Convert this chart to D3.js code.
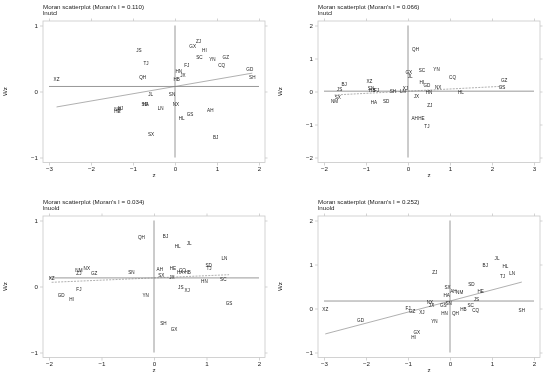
<!DOCTYPE html>
<html>
<head>
<meta charset="utf-8">
<script src="https://cdnjs.cloudflare.com/ajax/libs/d3/7.8.5/d3.min.js"></script>
<style>
  body { margin: 0; background: #fff; }
  svg { will-change: transform; }
  text { font-family: 'Liberation Sans', Arial, sans-serif; fill: #222; }
</style>
</head>
<body>
<div id="chart"></div>
<script>
// Panel titles / variables
var titles = ["Moran scatterplot (Moran's I = 0.110)", "Moran scatterplot (Moran's I = 0.066)",
              "Moran scatterplot (Moran's I = 0.034)", "Moran scatterplot (Moran's I = 0.252)"];
var subtitles = ['lnutcl', 'lnutcl', 'lnuold', 'lnuold'];
var moranI = [0.110, 0.066, 0.034, 0.252];
var meanWz = [0.076, 0.01, 0.13, 0.17];

// Tick values
var xTicks = [[-3, -2, -1, 0, 1, 2], [-2, -1, 0, 1, 2, 3], [-2, -1, 0, 1, 2], [-3, -2, -1, 0, 1, 2]];
var yTicks = [[-1, 0, 1], [-2, -1, 0, 1, 2], [-1, 0, 1], [-1, 0, 1, 2]];

// Panel 1: lnutcl, I = 0.110
var p1Names = ['ZJ', 'GX', 'HI', 'JS', 'SC', 'YN', 'GZ', 'TJ', 'FJ', 'CQ', 'GD', 'HN', 'JX', 'XZ', 'QH', 'HB',
               'SH', 'JL', 'SN', 'SD', 'HA', 'LN', 'NX', 'NM', 'XJ', 'HE', 'AH', 'HL', 'GS', 'SX', 'BJ'];
var p1Z = [0.56, 0.42, 0.70, -0.86, 0.58, 0.89, 1.21, -0.69, 0.28, 1.11, 1.78, 0.09, 0.19, -2.82, -0.77, 0.04,
           1.84, -0.58, -0.07, -0.72, -0.70, -0.34, 0.02, -1.36, -1.30, -1.37, 0.84, 0.16, 0.36, -0.57, 0.97];
var p1Wz = [0.76, 0.68, 0.62, 0.62, 0.51, 0.48, 0.51, 0.42, 0.39, 0.39, 0.34, 0.30, 0.25, 0.19, 0.22, 0.18,
            0.21, -0.05, -0.04, -0.19, -0.20, -0.26, -0.19, -0.27, -0.26, -0.30, -0.28, -0.40, -0.35, -0.65, -0.69];

// Panel 2: lnutcl, I = 0.066
var p2Names = ['QH', 'SC', 'YN', 'GX', 'JL', 'CQ', 'GZ', 'GS', 'BJ', 'XZ', 'HI', 'GD', 'NX', 'HN', 'HL', 'JS',
               'SX', 'NM', 'SN', 'HB', 'FJ', 'SH', 'XJ', 'LN', 'HA', 'SD', 'JX', 'ZJ', 'AH', 'HE', 'TJ'];
var p2Z = [0.18, 0.33, 0.68, 0.02, 0.05, 1.06, 2.29, 2.24, -1.52, -0.92, 0.33, 0.45, 0.72, 0.50, 1.26, -1.63,
           -1.67, -1.75, -0.88, -0.85, -0.75, -0.36, -0.06, -0.12, -0.81, -0.52, 0.20, 0.52, 0.16, 0.32, 0.45];
var p2Wz = [1.29, 0.65, 0.68, 0.57, 0.47, 0.44, 0.34, 0.13, 0.22, 0.32, 0.27, 0.18, 0.13, -0.03, -0.03, 0.05,
            -0.17, -0.30, 0.10, 0.03, 0.04, 0.01, 0.10, 0.01, -0.33, -0.29, -0.16, -0.41, -0.81, -0.81, -1.06];

// Panel 3: lnuold, I = 0.034
var p3Names = ['QH', 'BJ', 'JL', 'HL', 'LN', 'SD', 'TJ', 'NM', 'NX', 'ZJ', 'GZ', 'SN', 'AH', 'HE', 'CQ', 'HA',
               'HB', 'XZ', 'SX', 'JX', 'HN', 'SC', 'FJ', 'YN', 'JS', 'XJ', 'GD', 'HI', 'GS', 'SH', 'GX'];
var p3Z = [-0.24, 0.22, 0.67, 0.45, 1.34, 1.04, 1.05, -1.43, -1.28, -1.43, -1.14, -0.43, 0.11, 0.36, 0.54, 0.50,
           0.64, -1.95, 0.14, 0.34, 0.96, 1.32, -1.43, -0.16, 0.51, 0.63, -1.77, -1.57, 1.43, 0.18, 0.38];
var p3Wz = [0.74, 0.76, 0.65, 0.61, 0.42, 0.32, 0.27, 0.25, 0.27, 0.20, 0.20, 0.22, 0.26, 0.28, 0.25, 0.22,
            0.22, 0.13, 0.17, 0.14, 0.07, 0.11, -0.05, -0.13, -0.01, -0.06, -0.14, -0.19, -0.25, -0.56, -0.65];

// Panel 4: lnuold, I = 0.252
var p4Names = ['JL', 'BJ', 'HL', 'LN', 'TJ', 'ZJ', 'SD', 'SX', 'AH', 'NM', 'HE', 'HA', 'JS', 'NX', 'JX', 'GS',
               'SN', 'SC', 'HB', 'CQ', 'QH', 'HN', 'SH', 'XZ', 'FJ', 'GZ', 'XJ', 'YN', 'GD', 'GX', 'HI'];
var p4Z = [1.12, 0.84, 1.32, 1.48, 1.25, -0.36, 0.51, -0.06, 0.08, 0.23, 0.73, -0.08, 0.63, -0.48, -0.44, -0.16,
           -0.03, 0.49, 0.32, 0.61, 0.13, -0.13, 1.71, -2.97, -1.00, -0.90, -0.67, -0.37, -2.13, -0.79, -0.87];
var p4Wz = [1.13, 0.98, 0.95, 0.80, 0.73, 0.83, 0.54, 0.48, 0.40, 0.36, 0.40, 0.29, 0.21, 0.14, 0.06, 0.06,
            0.12, 0.07, -0.03, -0.04, -0.10, -0.11, -0.05, -0.02, 0.01, -0.06, -0.08, -0.29, -0.26, -0.55, -0.66];

(function (d3) {
  'use strict';

  var width = 550,
      height = 376,
      panelOrigins = [[0, 0], [275, 0], [0, 195], [275, 195]],
      names = [p1Names, p2Names, p3Names, p4Names],
      zs = [p1Z, p2Z, p3Z, p4Z],
      wzs = [p1Wz, p2Wz, p3Wz, p4Wz],
      frameColor = '#c8c8c8',
      refColor = '#8c8c8c';

  // Plot region inside each panel, and where the end ticks land
  var region = {left: 43, right: 265, top: 21, bottom: 162.5},
      xRange = [49, 259],
      yRange = [157.5, 25.5];

  var svg = d3.select('#chart').append('svg')
    .attr('width', width)
    .attr('height', height)
    .style('background', '#fff');

  panelOrigins.forEach(function(o, i) {
    var g = svg.append('g').attr('transform', 'translate(' + o[0] + ',' + o[1] + ')');
    var xt = xTicks[i], yt = yTicks[i];

    var x = d3.scaleLinear().domain([xt[0], xt[xt.length - 1]]).range(xRange),
        y = d3.scaleLinear().domain([yt[0], yt[yt.length - 1]]).range(yRange);

    // Titles
    g.append('text').attr('x', region.left).attr('y', 8.5)
      .style('font-size', '6.2px').text(titles[i]);
    g.append('text').attr('x', region.left).attr('y', 15)
      .style('font-size', '6.2px').text(subtitles[i]);

    // Frame lines
    g.append('rect')
      .attr('x', region.left).attr('y', region.top)
      .attr('width', region.right - region.left)
      .attr('height', region.bottom - region.top)
      .attr('fill', 'none')
      .attr('stroke', frameColor)
      .attr('stroke-width', 0.8);

    // Axes: labelled left/bottom, tick-only right/top
    var bottom = g.append('g').attr('transform', 'translate(0,' + region.bottom + ')')
      .call(d3.axisBottom(x).tickValues(xt).tickSize(3).tickPadding(1.5).tickFormat(d3.format('d')));
    var left = g.append('g').attr('transform', 'translate(' + region.left + ',0)')
      .call(d3.axisLeft(y).tickValues(yt).tickSize(3).tickPadding(2).tickFormat(d3.format('d')));
    var top = g.append('g').attr('transform', 'translate(0,' + region.top + ')')
      .call(d3.axisTop(x).tickValues(xt).tickSize(2.5).tickFormat(''));
    var right = g.append('g').attr('transform', 'translate(' + region.right + ',0)')
      .call(d3.axisRight(y).tickValues(yt).tickSize(2.5).tickFormat(''));

    [bottom, left, top, right].forEach(function(a) {
      a.select('.domain').remove();
      a.selectAll('line').attr('stroke', frameColor).attr('stroke-width', 0.8);
      a.selectAll('text').style('font-size', '6.2px').attr('fill', '#222')
        .style('font-family', "'Liberation Sans', Arial, sans-serif");
    });

    // Axis titles
    g.append('text')
      .attr('transform', 'translate(7,' + y(0.5 * (yt[0] + yt[yt.length - 1])) + ') rotate(-90)')
      .attr('text-anchor', 'middle')
      .style('font-size', '6.2px')
      .text('Wz');
    g.append('text')
      .attr('x', (region.left + region.right) / 2).attr('y', 177)
      .attr('text-anchor', 'middle')
      .style('font-size', '6.2px')
      .text('z');

    // Reference lines at mean z (0) and mean Wz
    g.append('line')
      .attr('x1', x(0)).attr('x2', x(0))
      .attr('y1', y(yt[0])).attr('y2', y(yt[yt.length - 1]))
      .attr('stroke', refColor).attr('stroke-width', 0.9);
    g.append('line')
      .attr('x1', x(xt[0])).attr('x2', x(xt[xt.length - 1]))
      .attr('y1', y(meanWz[i])).attr('y2', y(meanWz[i]))
      .attr('stroke', refColor).attr('stroke-width', 0.9);

    // Fitted line over the z range, slope = Moran's I
    var zExt = d3.extent(zs[i]);
    g.append('line')
      .attr('x1', x(zExt[0])).attr('x2', x(zExt[1]))
      .attr('y1', y(meanWz[i] + moranI[i] * zExt[0]))
      .attr('y2', y(meanWz[i] + moranI[i] * zExt[1]))
      .attr('stroke', '#7a7a7a')
      .attr('stroke-width', 0.6)
      .attr('stroke-dasharray', (i === 1 || i === 2) ? '2,1.2' : null);

    // Province labels used as markers
    g.selectAll('.lbl')
      .data(names[i].map(function(n, k) { return {name: n, z: zs[i][k], wz: wzs[i][k]}; }))
      .enter().append('text')
        .attr('class', 'lbl')
        .attr('x', function(d) { return x(d.z); })
        .attr('y', function(d) { return y(d.wz) + 1.6; })
        .attr('text-anchor', 'middle')
        .style('font-size', '4.6px')
        .attr('fill', '#333')
        .text(function(d) { return d.name; });
  });
}(d3));
</script>
</body>
</html>
